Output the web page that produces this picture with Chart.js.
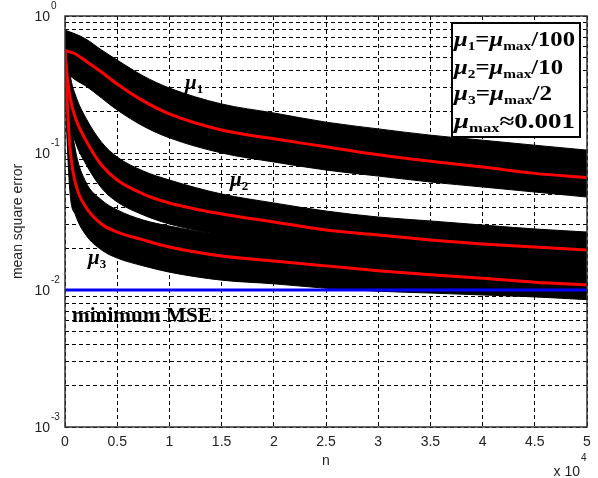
<!DOCTYPE html>
<html>
<head>
<meta charset="utf-8">
<script src="https://cdn.jsdelivr.net/npm/chart.js@4/dist/chart.umd.min.js"></script>
<style>
  html, body { margin: 0; padding: 0; background: #fff; }
</style>
</head>
<body>
<canvas id="chart" width="598" height="478"></canvas>
<script>
// iteration index n
const nValues = [0, 200, 500, 1000, 2000, 3500, 5000, 7500, 10000, 15000, 20000, 25000, 30000, 35000, 40000, 45000, 50000];

// mu1 = mu_max/100
const mu1Mean  = [0.565, 0.555, 0.546, 0.528, 0.469, 0.390, 0.319, 0.240, 0.193, 0.147, 0.127, 0.111, 0.097, 0.087, 0.079, 0.071, 0.066];
const mu1Upper = [0.790, 0.777, 0.764, 0.739, 0.679, 0.565, 0.477, 0.365, 0.298, 0.228, 0.196, 0.168, 0.150, 0.135, 0.124, 0.114, 0.105];
const mu1Lower = [0.390, 0.377, 0.365, 0.341, 0.308, 0.252, 0.206, 0.157, 0.129, 0.100, 0.086, 0.0751, 0.0679, 0.0614, 0.0565, 0.0519, 0.0477];

// mu2 = mu_max/10
const mu2Mean  = [0.565, 0.371, 0.252, 0.180, 0.124, 0.0817, 0.0635, 0.0502, 0.0432, 0.0359, 0.0314, 0.0274, 0.0252, 0.0232, 0.0217, 0.0206, 0.0196];
const mu2Upper = [0.727, 0.614, 0.371, 0.265, 0.180, 0.120, 0.0935, 0.0739, 0.0635, 0.0502, 0.0432, 0.0377, 0.0341, 0.0319, 0.0298, 0.0279, 0.0265];
const mu2Lower = [0.371, 0.244, 0.168, 0.120, 0.0831, 0.0555, 0.0439, 0.0353, 0.0303, 0.0252, 0.0224, 0.0196, 0.0180, 0.0166, 0.0157, 0.0150, 0.0145];

// mu3 = mu_max/2
const mu3Mean  = [0.565, 0.244, 0.105, 0.0604, 0.0403, 0.0303, 0.0265, 0.0232, 0.0206, 0.0177, 0.0163, 0.0150, 0.0138, 0.0129, 0.0122, 0.0114, 0.0109];
const mu3Upper = [0.727, 0.477, 0.206, 0.105, 0.0614, 0.0454, 0.0384, 0.0324, 0.0293, 0.0252, 0.0232, 0.0213, 0.0196, 0.0183, 0.0171, 0.0160, 0.0152];
const mu3Lower = [0.341, 0.124, 0.0493, 0.0353, 0.0252, 0.0196, 0.0171, 0.0150, 0.0135, 0.0118, 0.0111, 0.0103, 0.0098, 0.0095, 0.0092, 0.0089, 0.0085];

const minimumMse = 0.01;

const yDecades = [0.001, 0.01, 0.1, 1];
const yDecadeLabels = ['-3', '-2', '-1', '0'];

function pts(values) {
  return values.map((v, i) => ({ x: nValues[i], y: v }));
}

function band(upper, lower) {
  return [
    { data: pts(upper), fill: '+1', backgroundColor: '#000', borderColor: '#000', borderWidth: 1,
      pointRadius: 0, cubicInterpolationMode: 'monotone', order: 3 },
    { data: pts(lower), fill: false, borderColor: '#000', borderWidth: 1,
      pointRadius: 0, cubicInterpolationMode: 'monotone', order: 3 },
  ];
}

function meanLine(values) {
  return { data: pts(values), fill: false, borderColor: '#ff0000', borderWidth: 3,
    pointRadius: 0, cubicInterpolationMode: 'monotone', order: 1 };
}

function drawRuns(ctx, runs, x, y, width) {
  let total = 0;
  runs.forEach((r) => { ctx.font = r[1]; total += ctx.measureText(r[0]).width; });
  const sx = width ? width / total : 1;
  ctx.save();
  ctx.translate(x, y);
  ctx.scale(sx, 1);
  let cx = 0;
  runs.forEach((r) => {
    ctx.font = r[1];
    ctx.fillText(r[0], cx, r[2] || 0);
    cx += ctx.measureText(r[0]).width;
  });
  ctx.restore();
}

const MU = 'italic bold 21px "Liberation Serif"';
const BIG = 'bold 21px "Liberation Serif"';
const SUB = 'bold 13px "Liberation Serif"';

const decorations = {
  id: 'decorations',
  afterDraw(chart) {
    const ctx = chart.ctx;
    const a = chart.chartArea;
    const ys = chart.scales.y;
    ctx.save();

    // axes box
    ctx.strokeStyle = '#333';
    ctx.lineWidth = 1.5;
    ctx.strokeRect(a.left, a.top, a.right - a.left, a.bottom - a.top);

    // y decade labels
    ctx.fillStyle = '#222';
    yDecades.forEach((d, i) => {
      const py = ys.getPixelForValue(d);
      ctx.font = '14px "Liberation Sans"';
      ctx.textAlign = 'right';
      ctx.textBaseline = 'middle';
      ctx.fillText('10', 50, py + 1);
      ctx.font = '10px "Liberation Sans"';
      ctx.textAlign = 'left';
      ctx.textBaseline = 'alphabetic';
      ctx.fillText(yDecadeLabels[i], 51, py - 7);
    });

    // x multiplier
    ctx.font = '14px "Liberation Sans"';
    ctx.textAlign = 'right';
    ctx.fillText('x 10', 580, 476);
    ctx.font = '10px "Liberation Sans"';
    ctx.textAlign = 'left';
    ctx.fillText('4', 581, 461);

    // curve labels
    ctx.fillStyle = '#000';
    drawRuns(ctx, [['μ', MU], ['1', SUB, 4]], 185, 89);
    drawRuns(ctx, [['μ', MU], ['2', SUB, 4]], 230, 186);
    drawRuns(ctx, [['μ', MU], ['3', SUB, 4]], 88, 264);
    drawRuns(ctx, [['minimum MSE', BIG]], 72, 322, 140);

    // legend box
    ctx.fillStyle = '#fff';
    ctx.fillRect(452, 23, 128, 114);
    ctx.strokeStyle = '#000';
    ctx.lineWidth = 2;
    ctx.strokeRect(452, 23, 128, 114);
    ctx.fillStyle = '#000';
    drawRuns(ctx, [['μ', MU], ['1', SUB, 4], ['=', BIG], ['μ', MU], ['max', SUB, 4], ['/100', BIG]], 454, 46, 121);
    drawRuns(ctx, [['μ', MU], ['2', SUB, 4], ['=', BIG], ['μ', MU], ['max', SUB, 4], ['/10', BIG]], 454, 74, 109);
    drawRuns(ctx, [['μ', MU], ['3', SUB, 4], ['=', BIG], ['μ', MU], ['max', SUB, 4], ['/2', BIG]], 454, 100, 98);
    drawRuns(ctx, [['μ', MU], ['max', SUB, 4], ['≈0.001', BIG]], 454, 128, 121);

    ctx.restore();
  }
};

new Chart('chart', {
  type: 'line',
  data: {
    datasets: [
      { data: [{ x: 0, y: minimumMse }, { x: 50000, y: minimumMse }], fill: false,
        borderColor: '#0000ff', borderWidth: 3, pointRadius: 0, order: 0 },
      meanLine(mu1Mean),
      meanLine(mu2Mean),
      meanLine(mu3Mean),
      ...band(mu1Upper, mu1Lower),
      ...band(mu2Upper, mu2Lower),
      ...band(mu3Upper, mu3Lower),
    ],
  },
  options: {
    responsive: false,
    animation: false,
    events: [],
    layout: { padding: { top: 16, right: 11, left: 0, bottom: 0 } },
    plugins: {
      legend: { display: false },
      tooltip: { enabled: false },
    },
    scales: {
      x: {
        type: 'linear',
        min: 0,
        max: 50000,
        afterFit: (s) => { s.height = 51; },
        ticks: {
          stepSize: 5000,
          padding: 7,
          color: '#222',
          font: { family: 'Liberation Sans', size: 14 },
          callback: (v) => String(v / 10000),
          maxRotation: 0,
        },
        grid: { color: '#000', lineWidth: 1, drawTicks: false },
        border: { display: false, dash: [4, 3] },
        title: {
          display: true,
          text: 'n',
          color: '#222',
          font: { family: 'Liberation Sans', size: 14 },
          padding: { top: 0, bottom: 8 },
        },
      },
      y: {
        type: 'logarithmic',
        min: 0.001,
        max: 1,
        afterFit: (s) => { s.width = 65; },
        afterBuildTicks: (s) => {
          const t = [];
          yDecades.forEach((d) => {
            for (let k = 1; k < 10; k++) {
              if (d * k <= 1.0000001) t.push({ value: d * k });
            }
          });
          s.ticks = t;
        },
        ticks: { display: false },
        grid: { color: '#000', lineWidth: 1, drawTicks: false },
        border: { display: false, dash: [4, 3] },
        title: {
          display: true,
          text: 'mean square error',
          color: '#222',
          font: { family: 'Liberation Sans', size: 14 },
          padding: { top: 10, bottom: 0 },
        },
      },
    },
  },
  plugins: [decorations],
});
</script>
</body>
</html>
